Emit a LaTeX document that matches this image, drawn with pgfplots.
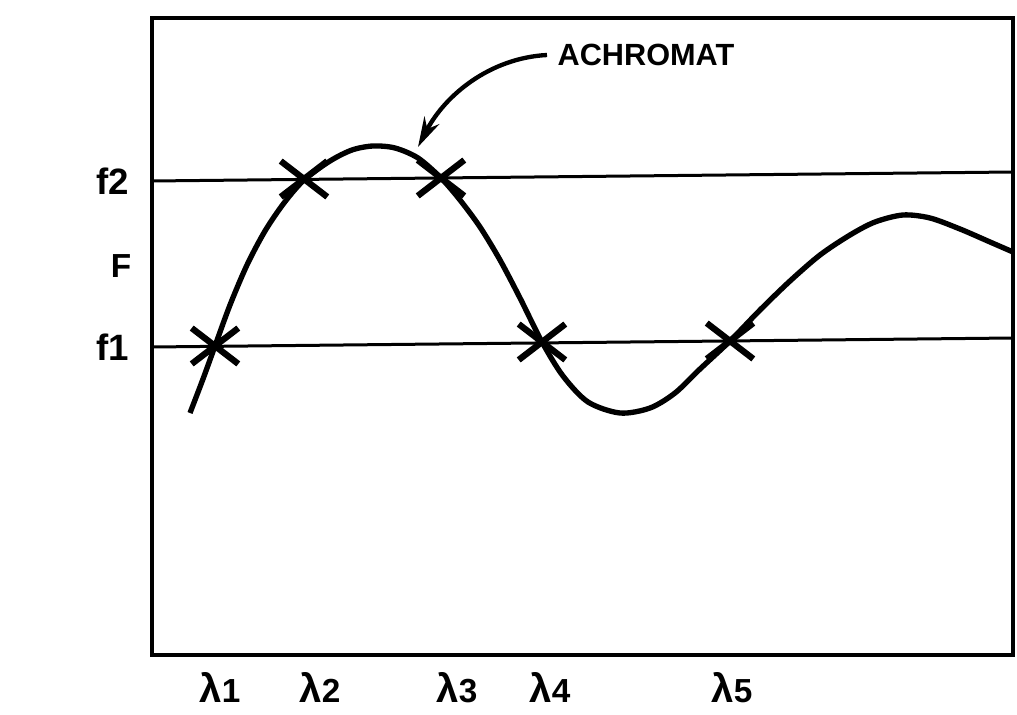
\documentclass[border=0pt]{standalone}
\usepackage{fontspec}
\setmainfont{Liberation Sans}
\usepackage{pgfplots}
\pgfplotsset{compat=1.18}
\usetikzlibrary{arrows.meta}
\begin{document}
\begin{tikzpicture}
\begin{axis}[
  scale only axis, width=258.3pt, height=191.1pt,
  xmin=152, xmax=1013, ymin=18, ymax=655, y dir=reverse,
  axis line style={line width=1.2pt},
  xtick=\empty, ytick=\empty, clip=false,
]
\path (axis cs:0,0) rectangle (axis cs:1017,714);
% reference levels f2 and f1
\addplot[line width=0.9pt] coordinates {(152,181) (1013,172)};
\addplot[line width=0.9pt] coordinates {(152,347) (1013,338)};
% achromat curve
\addplot[line width=1.6pt, smooth, tension=0.5] coordinates {
(190,413) (203,379) (215,346) (230,305) (247,265) (265,231) (284,203)
(304,180) (330,161) (352,150) (373,146) (395,148) (418,158) (441,178)
(460,200) (480,227) (500,260) (520,298) (542,342) (563,376) (588,402)
(620,413) (650,408) (675,393) (700,369) (730,341) (760,310) (790,281)
(820,255) (850,235) (875,222) (903,215) (930,218) (960,229) (990,242)
(1013,252)};
% crossing points
\addplot[only marks, mark=x, mark size=7.6pt, mark options={xscale=1.3, line width=1.9pt}]
coordinates {(215,346) (304,179) (441,178) (542,342) (730,341)};
% labels
\node[font=\bfseries\fontsize{11}{13}\selectfont] at (axis cs:113,181) {f2};
\node[font=\bfseries\fontsize{11}{13}\selectfont] at (axis cs:113,347) {f1};
\node[font=\bfseries\fontsize{10}{12}\selectfont] at (axis cs:121,266) {F};
\node[font=\bfseries\fontsize{9.2}{11}\selectfont] at (axis cs:646,55) {ACHROMAT};
\draw[line width=1.3pt, -{Stealth[length=9pt, width=5pt]}]
  (axis cs:547,55) .. controls (axis cs:490,58) and (axis cs:445,95) .. (axis cs:418,147);
\foreach \xx/\nn in {220/1, 320/2, 457/3, 550/4, 732/5}{
  \edef\tmp{\noexpand\node[anchor=base, font=\noexpand\bfseries\noexpand\fontsize{12}{14}\noexpand\selectfont] at (axis cs:\xx,702) {λ{\noexpand\fontsize{10}{12}\noexpand\selectfont\nn}};}
  \tmp
}
\end{axis}
\end{tikzpicture}
\end{document}
